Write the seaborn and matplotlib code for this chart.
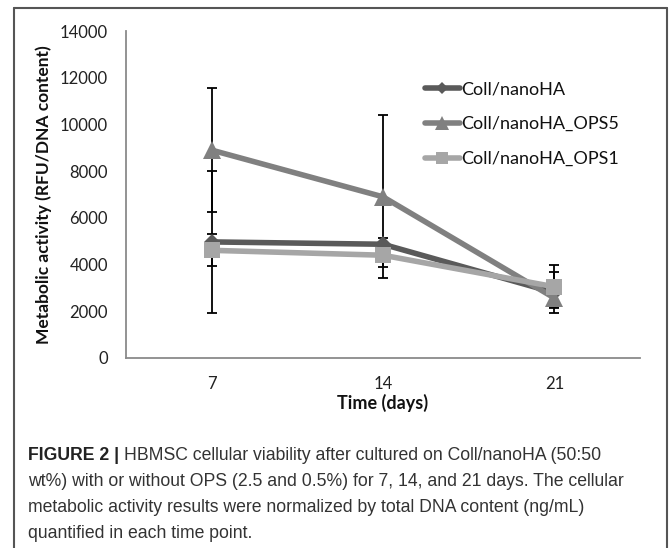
import matplotlib
matplotlib.use("Agg")
import matplotlib.pyplot as plt
from matplotlib import font_manager
from matplotlib.lines import Line2D
import seaborn as sns
import pandas as pd
import numpy as np

# ---- data ----
days = ["7", "14", "21"]
series = ["Coll/nanoHA", "Coll/nanoHA_OPS5", "Coll/nanoHA_OPS1"]
coll = [4970, 4870, 2800]
ops5 = [8900, 6900, 2570]
ops1 = [4610, 4400, 3050]
coll_err = [3030, 250, 870]
ops5_err = [2650, 3490, 380]
ops1_err = [680, 500, 920]
yticks = [0, 2000, 4000, 6000, 8000, 10000, 12000, 14000]

colors = ["#5a5a5a", "#808080", "#a6a6a6"]
markers = ["D", "^", "s"]
msizes = [8, 13, 12]

sns.set_theme(style="white")
names = {f.name for f in font_manager.fontManager.ttflist}
tick_font = "Lato" if "Lato" in names else "DejaVu Sans"
cap_font = "Liberation Sans Narrow" if "Liberation Sans Narrow" in names else "Liberation Sans"
plt.rcParams["font.family"] = [tick_font, "DejaVu Sans"]

W, H = 669, 548
fig = plt.figure(figsize=(W / 100, H / 100), dpi=100)
ax = fig.add_axes([126 / W, (H - 358) / H, (640 - 126) / W, (358 - 31) / H])

df = pd.DataFrame({
    "day": days * 3,
    "series": [s for s in series for _ in days],
    "value": coll + ops5 + ops1,
})
errs = [coll_err, ops5_err, ops1_err]
vals = [coll, ops5, ops1]

# error bars (black, capped)
for i, s in enumerate(series):
    ax.errorbar(np.arange(len(days)), vals[i], yerr=errs[i], fmt="none",
                ecolor="black", elinewidth=1.3, capsize=3.5, capthick=1.3, zorder=1)

for i, s in enumerate(series):
    sub = df[df["series"] == s]
    sns.lineplot(data=sub, x="day", y="value", ax=ax, color=colors[i],
                 marker=markers[i], markersize=msizes[i], markeredgewidth=0,
                 linewidth=4, sort=False, legend=False, zorder=3 + i)

ax.set_xlim(-0.5, 2.5)
ax.set_ylim(0, 14000)
ax.set_yticks(yticks)
ax.set_yticklabels([str(v) for v in yticks])
ax.set_xticks(range(len(days)))
ax.set_xticklabels(days)
ax.set_xticks([-0.5, 0.5, 1.5, 2.5], minor=True)
ax.tick_params(axis="x", which="major", length=0, pad=13, labelsize=12, labelcolor="#222222")
ax.tick_params(axis="x", which="minor", length=5, width=1.2, color="#8a8a8a", direction="out")
ax.tick_params(axis="y", which="major", length=5, width=1.2, color="#8a8a8a", direction="out",
               pad=8, labelsize=12, labelcolor="#222222")
for sp in ["top", "right"]:
    ax.spines[sp].set_visible(False)
for sp in ["left", "bottom"]:
    ax.spines[sp].set_color("#8a8a8a")
    ax.spines[sp].set_linewidth(1.3)

ax.set_xlabel("Time (days)", fontsize=13, fontweight="bold", color="#111111", labelpad=1)
ax.set_ylabel("Metabolic activity (RFU/DNA content)", fontsize=12.5, fontweight="bold",
              color="#111111")
ax.yaxis.set_label_coords(-(126 - 52) / (640 - 126), 0.5)

handles = [Line2D([0], [0], color=colors[i], marker=markers[i], markersize=msizes[i] * 0.75,
                  markeredgewidth=0, linewidth=4) for i in range(3)]
leg = ax.legend(handles, series, loc="upper left", bbox_to_anchor=((418 - 126) / 514, (358 - 74) / 327),
                frameon=False, fontsize=13, handlelength=1.9, handletextpad=0.1,
                labelspacing=1.05, borderaxespad=0)
for t in leg.get_texts():
    t.set_color("#111111")

# figure frame
fc = "#555555"
fig.add_artist(Line2D([14 / W, 14 / W], [0, 1 - 8 / H], color=fc, lw=1.5, transform=fig.transFigure))
fig.add_artist(Line2D([667 / W, 667 / W], [0, 1 - 8 / H], color=fc, lw=1.5, transform=fig.transFigure))
fig.add_artist(Line2D([14 / W, 667 / W], [1 - 8 / H, 1 - 8 / H], color=fc, lw=1.5, transform=fig.transFigure))

# caption
cap_size = 12.7
cap_color = "#333333"
x0 = 28 / W
lines_y = [455, 481, 507, 533]
renderer = fig.canvas.get_renderer()
t1 = fig.text(x0, 1 - lines_y[0] / H, "FIGURE 2 |", fontsize=cap_size, fontweight="bold",
              color="#222222", family=[cap_font, "DejaVu Sans"], va="center")
bb = t1.get_window_extent(renderer)
fig.text(bb.x1 / W + 5 / W, 1 - lines_y[0] / H,
         "HBMSC cellular viability after cultured on Coll/nanoHA (50:50",
         fontsize=cap_size, color=cap_color, family=[cap_font, "DejaVu Sans"], va="center")
rest = ["wt%) with or without OPS (2.5 and 0.5%) for 7, 14, and 21 days. The cellular",
        "metabolic activity results were normalized by total DNA content (ng/mL)",
        "quantified in each time point."]
for yy, txt in zip(lines_y[1:], rest):
    fig.text(x0, 1 - yy / H, txt, fontsize=cap_size, color=cap_color,
             family=[cap_font, "DejaVu Sans"], va="center")

fig.savefig("out.png", dpi=100)
